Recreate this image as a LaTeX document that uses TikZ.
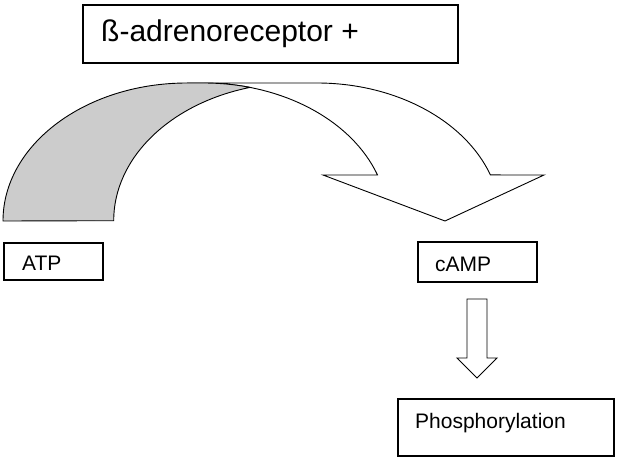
\documentclass[tikz,border=0pt]{standalone}
\usepackage{fontspec}
\setmainfont{Liberation Sans}
\usepackage{xcolor}
\usepackage{tikz}
\usetikzlibrary{positioning,calc}
\definecolor{backgray}{RGB}{204,204,204}
\newcommand{\bigtxt}{\fontsize{30}{36}\selectfont}
\newcommand{\smalltxt}{\fontsize{21}{25}\selectfont}

\begin{document}
\begin{tikzpicture}[x=1pt,y=-1pt,
    box/.style={draw, line width=1.6pt, inner sep=0pt, anchor=north west},
    lbl/.style={inner sep=0pt, anchor=base west, font=\smalltxt},
    band/.style={line width=0.9pt, line join=miter}]
    \useasboundingbox (0,0) rectangle (619,460);

    % Receptor box
    \node[box, minimum width=375pt, minimum height=58pt] (recbox) at (82,4) {};
    \node[lbl, font=\bigtxt] (rec) at ([xshift=19pt,yshift=22pt]recbox.south west) {ß-adrenoreceptor +};

    % Curved arrow, front part
    \filldraw[band, fill=white] (187,83) -- (317,83)
        arc[start angle=270, end angle=340.5, x radius=184, y radius=138]
        -- (544,175) -- (445,221) -- (323,175) -- (377.5,175)
        arc[start angle=340.5, end angle=270, x radius=184, y radius=138] -- cycle;
    % Curved arrow, back part
    \filldraw[band, fill=backgray] (3,221)
        arc[start angle=180, end angle=270, x radius=184, y radius=138] -- (204,83)
        arc[start angle=270, end angle=284.5, x radius=184, y radius=138]
        arc[start angle=255, end angle=180, x radius=184, y radius=138] -- cycle;

    % ATP and cAMP
    \node[box, minimum width=99pt, minimum height=37pt] (atpbox) at (3,242) {};
    \node[lbl] (atp) at ([xshift=19pt,yshift=10pt]atpbox.south west) {ATP};
    \node[box, minimum width=119pt, minimum height=40pt] (campbox) at (417,241) {};
    \node[lbl] (camp) at ([xshift=18pt,yshift=11pt]campbox.south west) {cAMP};

    % Down arrow
    \draw[band] (467,299) -- (487,299) -- (487,358) -- (497,358) -- (477,378)
        -- (457,358) -- (467,358) -- cycle;

    % Phosphorylation
    \node[box, minimum width=216pt, minimum height=57pt] (phosbox) at (397,398) {};
    \node[lbl] (phos) at ([xshift=18pt,yshift=28pt]phosbox.south west) {Phosphorylation};
\end{tikzpicture}
\end{document}
